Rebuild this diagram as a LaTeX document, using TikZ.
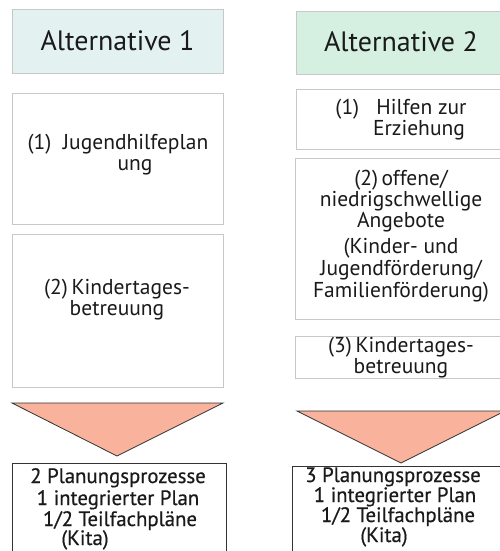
\documentclass[tikz,border=0pt]{standalone}
\usepackage{fontspec}
\setmainfont{PT Sans}
\newfontfamily\medfont[FakeBold=0.5]{PT Sans}
\definecolor{txt}{HTML}{1A1A1A}
\definecolor{lborder}{HTML}{C8C8C8}
\definecolor{tfillA}{HTML}{E3F1F1}
\definecolor{tfillB}{HTML}{D5EFE0}
\definecolor{trifill}{HTML}{F9B29C}
\definecolor{dborder}{HTML}{333333}
\tikzset{
  lbox/.style={draw=lborder, line width=0.9pt, fill=white},
  titlebox/.style={draw=lborder, line width=0.9pt},
  resbox/.style={draw=dborder, line width=0.9pt, fill=white},
  tri/.style={draw=dborder, line width=0.8pt, fill=trifill},
  ttl/.style={font=\fontsize{28}{30}\selectfont, text=txt, inner sep=0pt},
  bt/.style={font=\fontsize{21.5}{22}\selectfont, text=txt, inner sep=0pt, anchor=base},
  rt/.style={font=\medfont\fontsize{20.8}{22}\selectfont, text=txt, inner sep=0pt, anchor=base},
}
\begin{document}
\begin{tikzpicture}[x=1pt,y=-1pt]
\useasboundingbox[fill=white] (0,0) rectangle (499,551);
% left column
\draw[titlebox, fill=tfillA] (12,9) rectangle (223,73);
\node[ttl] (tA) at (117.5,41) {Alternative 1};
\draw[lbox] (12,93) rectangle (223,224);
\node[bt] (a1a) at (118,149) {(1)\ \ Jugendhilfeplan};
\node[bt] (a1b) at (135,170) {ung};
\draw[lbox] (12,234) rectangle (223,387);
\node[bt] (a2a) at (117,294) {(2)\,Kindertages-};
\node[bt] (a2b) at (117,315) {betreuung};
\path[tri] (12,403) -- (223,403) -- (117,456) -- cycle;
\draw[resbox] (12,463) rectangle (226,560);
\node[rt] (ra1) at (118,483) {2 Planungsprozesse};
\node[rt] (ra2) at (118,505) {1 integrierter Plan};
\node[rt] (ra3) at (120,526) {1/2 Teilfachpläne};
\node[rt] (ra4) at (85,545) {(Kita)};
% right column
\draw[titlebox, fill=tfillB] (296,11) rectangle (508,74);
\node[ttl] (tB) at (401,42) {Alternative 2};
\draw[lbox] (296,89) rectangle (508,149);
\node[bt] (b1a) at (401,114) {(1)\ \ \ Hilfen zur};
\node[bt] (b1b) at (419,135) {Erziehung};
\draw[lbox] (295,158) rectangle (508,319);
\node[bt] (b2a) at (401,185) {(2)\,offene/};
\node[bt] (b2b) at (401,206) {niedrigschwellige};
\node[bt] (b2c) at (401,227) {Angebote};
\node[bt] (b2d) at (401,253) {(Kinder- und};
\node[bt] (b2e) at (401,275) {Jugendförderung/};
\node[bt] (b2f) at (401,297) {Familienförderung)};
\draw[lbox] (295,336) rectangle (508,378);
\node[bt] (b3a) at (401,352) {(3)\,Kindertages-};
\node[bt] (b3b) at (401,373) {betreuung};
\path[tri] (297,411) -- (505,411) -- (401,463) -- cycle;
\draw[resbox] (292,466) rectangle (510,560);
\node[rt] (rb1) at (393,482) {3 Planungsprozesse};
\node[rt] (rb2) at (395,502) {1 integrierter Plan};
\node[rt] (rb3) at (398,522) {1/2 Teilfachpläne};
\node[rt] (rb4) at (384,542) {(Kita)};
\end{tikzpicture}
\end{document}
